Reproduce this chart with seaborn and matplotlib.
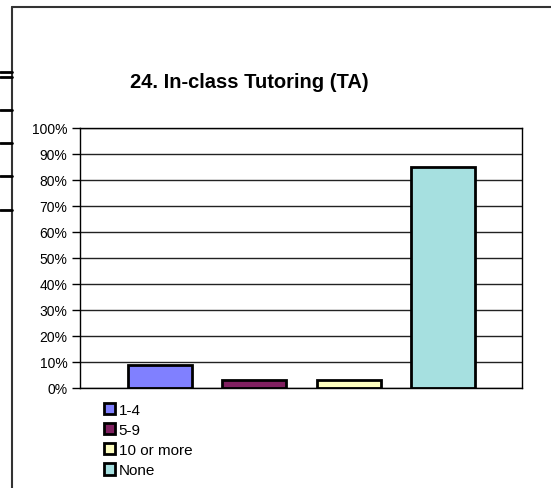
import matplotlib
matplotlib.use('Agg')
import matplotlib.pyplot as plt
import seaborn as sns
import pandas as pd
from matplotlib.lines import Line2D
from matplotlib.patches import Patch
from matplotlib.ticker import PercentFormatter

# Chart data
categories = ['1-4', '5-9', '10 or more', 'None']
shares = [9, 3, 3, 85]
colors = ['#8080FF', '#802060', '#FFFFC0', '#A6E0E0']
title = '24. In-class Tutoring (TA)'

df = pd.DataFrame({'Response': categories, 'Percent': shares})

sns.set_style('white')
plt.rcParams['font.family'] = ['Liberation Sans', 'DejaVu Sans']
plt.rcParams['text.color'] = 'black'
plt.rcParams['ytick.color'] = 'black'

fig = plt.figure(figsize=(5.51, 4.89), dpi=100)
ax = fig.add_axes([80 / 551, 1 - 389 / 489, 442 / 551, 260 / 489])

sns.barplot(data=df, x='Response', y='Percent', hue='Response', palette=colors,
            order=categories, hue_order=categories, dodge=False, width=0.68,
            saturation=1, edgecolor='black', linewidth=2, legend=False, ax=ax)

ax.set_xlim(-0.85, 3.84)
ax.set_ylim(0, 100)
ax.set_yticks(range(0, 101, 10))
ax.yaxis.set_major_formatter(PercentFormatter(decimals=0))
ax.tick_params(axis='y', labelsize=10, length=6, width=1, color='black',
               labelcolor='black', left=True, pad=3)
ax.tick_params(axis='x', bottom=False, labelbottom=False)
ax.set_xlabel('')
ax.set_ylabel('')
ax.grid(axis='y', color='#222222', linewidth=1)
ax.set_axisbelow(True)
for side in ['left', 'bottom', 'right', 'top']:
    ax.spines[side].set_visible(True)
    ax.spines[side].set_color('black')
    ax.spines[side].set_linewidth(1)

# Title
fig.text(249 / 551, 1 - 83 / 489, title, ha='center', va='center',
         fontsize=14.5, fontweight='bold', color='black')

# Legend
handles = [Patch(facecolor=c, edgecolor='black', linewidth=2) for c in colors]
fig.legend(handles, categories, loc='upper left',
           bbox_to_anchor=(104 / 551, 1 - 404 / 489), frameon=False,
           fontsize=11, handlelength=0.75, handleheight=0.75,
           handletextpad=0.2, labelspacing=0.4, borderaxespad=0,
           borderpad=0)

# Surrounding frame lines of the page
fig.add_artist(Line2D([12 / 551, 12 / 551], [0, 1 - 8 / 489],
                      transform=fig.transFigure, color='#333333', linewidth=1.5))
fig.add_artist(Line2D([12 / 551, 1], [1 - 8 / 489, 1 - 8 / 489],
                      transform=fig.transFigure, color='#333333', linewidth=1.5))
for yy in [73, 78, 111, 144, 177, 211]:
    fig.add_artist(Line2D([0, 12 / 551], [1 - yy / 489, 1 - yy / 489],
                          transform=fig.transFigure, color='black', linewidth=2))

fig.savefig('out.png', dpi=100)
